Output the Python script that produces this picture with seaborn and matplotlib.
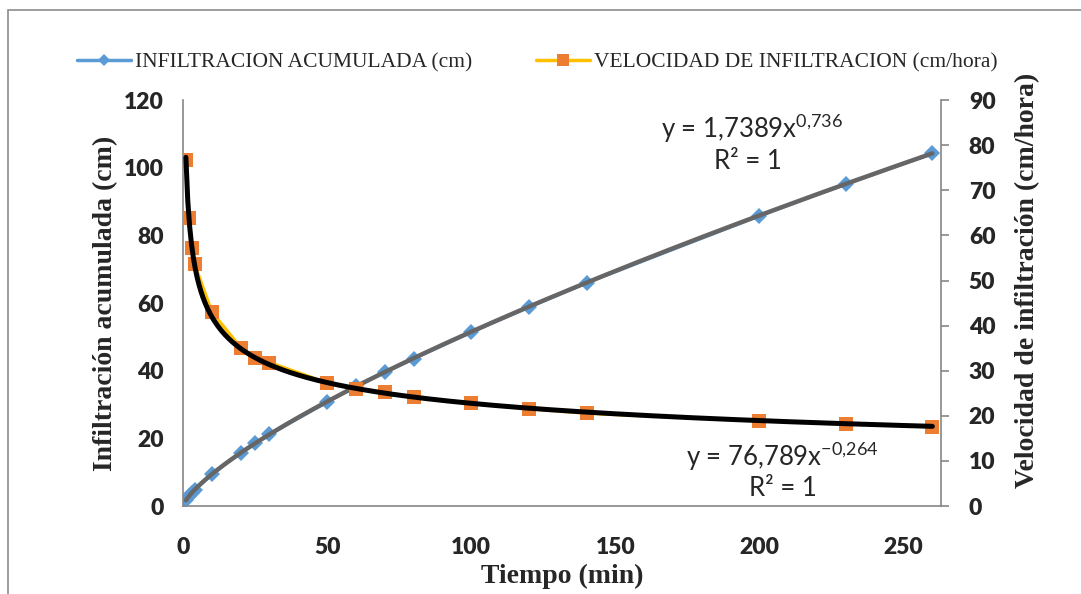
import numpy as np
import pandas as pd
import matplotlib
matplotlib.use('Agg')
import matplotlib.pyplot as plt
import matplotlib.patches as mpatches
from matplotlib.lines import Line2D
import seaborn as sns

# data
tiempo = [1, 2, 3, 4, 10, 20, 25, 30, 50, 60, 70, 80, 100, 120, 140, 200, 230, 260]
infiltracion = [1.7, 2.9, 3.9, 4.8, 9.4, 15.8, 18.6, 21.2, 30.8, 35.5, 39.6, 43.6,
                51.4, 58.8, 66.0, 85.8, 95.2, 104.2]
velocidad = [76.8, 63.8, 57.2, 53.6, 43.0, 35.1, 32.9, 31.8, 27.3, 26.0, 25.2, 24.1,
             22.8, 21.6, 20.6, 18.9, 18.3, 17.6]

lab_acum = 'INFILTRACION ACUMULADA (cm)'
lab_vel = 'VELOCIDAD DE INFILTRACION (cm/hora)'
eq_acum = 'y = 1,7389x$^{0{,}736}$'
eq_vel = 'y = 76,789x$^{-0{,}264}$'

df = pd.DataFrame({'Tiempo': tiempo, 'Acum': infiltracion, 'Vel': velocidad})

# power trendlines (fit in log-log space, like Excel)
def power_trend(x, y):
    b, ln_a = np.polyfit(np.log(x), np.log(y), 1)
    xs = np.linspace(min(x), max(x), 400)
    return xs, np.exp(ln_a) * xs ** b

sns.set_style('white')
plt.rcParams['mathtext.fontset'] = 'custom'
plt.rcParams['mathtext.rm'] = 'Lato'
plt.rcParams['mathtext.default'] = 'regular'

blue = '#5B9BD5'
orange = '#ED7D31'
yellow = '#FFC000'
axis_gray = '#868686'
serif = 'Liberation Serif'

fig = plt.figure(figsize=(10.81, 5.94), dpi=100)
ax1 = fig.add_axes([0.1693, 0.148, 0.7012, 0.6836])
ax2 = ax1.twinx()

sns.lineplot(data=df, x='Tiempo', y='Acum', ax=ax1, color=blue, linewidth=2.5,
             marker='D', markersize=8, markeredgewidth=0, sort=False, zorder=2)
sns.lineplot(data=df, x='Tiempo', y='Vel', ax=ax2, color=yellow, linewidth=2.5,
             marker='s', markersize=9.5, markerfacecolor=orange,
             markeredgewidth=0, sort=False, zorder=2)

xs, ys = power_trend(tiempo, infiltracion)
ax1.plot(xs, ys, color='#666666', linewidth=3.2, zorder=3)
xs, ys = power_trend(tiempo, velocidad)
ax2.plot(xs, ys, color='black', linewidth=3.6, zorder=3)

ax1.set_xlim(0, 263)
ax1.set_ylim(0, 120)
ax2.set_ylim(0, 90)
ax1.set_xticks([0, 50, 100, 150, 200, 250])
ax1.set_yticks(range(0, 121, 20))
ax2.set_yticks(range(0, 91, 10))

for a in (ax1, ax2):
    for s in a.spines.values():
        s.set_visible(False)
ax1.spines['left'].set_visible(True)
ax1.spines['bottom'].set_visible(True)
ax2.spines['right'].set_visible(True)
for s in (ax1.spines['left'], ax1.spines['bottom'], ax2.spines['right']):
    s.set_color(axis_gray)
    s.set_linewidth(1.2)

ax1.tick_params(axis='y', length=0, pad=14)
ax1.tick_params(axis='x', length=0, pad=22)
ax2.tick_params(axis='y', length=6, width=1.2, color=axis_gray, direction='out', pad=14)
for lbl in ax1.get_xticklabels() + ax1.get_yticklabels() + ax2.get_yticklabels():
    lbl.set_fontfamily('Lato')
    lbl.set_fontweight('heavy')
    lbl.set_fontsize(16.5)

ax1.set_xlabel('Tiempo (min)', fontfamily=serif, fontweight='bold', fontsize=20)
ax1.xaxis.set_label_coords(0.5, -0.143)
ax1.set_ylabel('Infiltración acumulada (cm)', fontfamily=serif, fontweight='bold',
               fontsize=20)
ax1.yaxis.set_label_coords(-0.086, 0.5)
ax2.set_ylabel('Velocidad de infiltración (cm/hora)', fontfamily=serif, fontweight='bold',
               fontsize=20, rotation=90)
ax2.yaxis.set_label_coords(1.098, 0.557)

# trendline equations
eq_font = dict(fontfamily='Lato', fontsize=18.5, ha='center', va='center')
ax1.text(197.6, 111.7, eq_acum, **eq_font)
ax1.text(196, 101.7, 'R² = 1', **eq_font)
ax1.text(208, 14.5, eq_vel, **eq_font)
ax1.text(208, 5.3, 'R² = 1', **eq_font)

# legend across the top
handles = [
    Line2D([], [], color=blue, linewidth=2.5, marker='D', markersize=6, markeredgewidth=0),
    Line2D([], [], color=yellow, linewidth=2.5, marker='s', markersize=8,
           markerfacecolor=orange, markeredgewidth=0),
]
fig.legend(handles, [lab_acum, lab_vel], loc='center', bbox_to_anchor=(0.497, 0.895),
           ncol=2, frameon=False, prop={'family': serif, 'size': 15.5},
           handlelength=2.5, handletextpad=0.2, columnspacing=2.95)

# outer chart border
fig.patches.append(mpatches.Rectangle((8 / 1081, -0.5), 2, 0.5 + 1 - 10 / 594,
                                      transform=fig.transFigure, fill=False,
                                      edgecolor='#8c8c8c', linewidth=1.2))

fig.savefig('out.png', dpi=100)
